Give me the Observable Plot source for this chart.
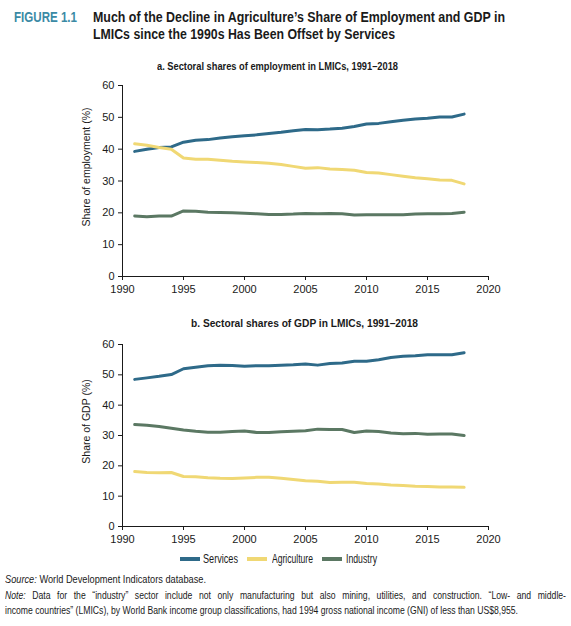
<!DOCTYPE html>
<html><head><meta charset="utf-8">
<script src="https://cdn.jsdelivr.net/npm/d3@7"></script>
<script src="https://cdn.jsdelivr.net/npm/@observablehq/plot@0.6"></script>
<style>
  html,body{margin:0;padding:0;background:#fff;}
  body{width:571px;height:626px;position:relative;overflow:hidden;font-family:"Liberation Sans",Arial,sans-serif;color:#1a1a1a;}
  .abs{position:absolute;white-space:nowrap;line-height:1;transform-origin:left top;}
  .t{font-weight:bold;font-size:14.5px;}
  .sub{font-weight:bold;font-size:11.5px;}
  .sw{position:absolute;width:20px;height:4px;top:557px;}
  .lg{font-size:12px;top:553px;}
  .fn{font-size:11px;}
</style>
</head><body>
<div class="abs t fit" data-w="63" style="left:14px;top:10px;color:#3b8aa5;">FIGURE 1.1</div>
<div class="abs t fit" data-w="412" style="left:93px;top:10px;">Much of the Decline in Agriculture’s Share of Employment and GDP in</div>
<div class="abs t fit" data-w="302" style="left:93px;top:26.5px;">LMICs since the 1990s Has Been Offset by Services</div>
<div class="abs sub fit" data-w="241" style="left:157px;top:61px;">a. Sectoral shares of employment in LMICs, 1991–2018</div>
<div id="chartA" class="abs" style="left:0;top:75px;"></div>
<div class="abs sub fit" data-w="227" style="left:191px;top:318px;">b. Sectoral shares of GDP in LMICs, 1991–2018</div>
<div id="chartB" class="abs" style="left:0;top:334px;"></div>
<div id="legend"></div>
<div class="abs fn fit" data-w="201" style="left:5px;top:574px;"><i>Source:</i> World Development Indicators database.</div>
<div id="note1" class="abs fn" style="left:5px;top:590px;white-space:normal;text-align:justify;text-align-last:justify;"><i>Note:</i> Data for the “industry” sector include not only manufacturing but also mining, utilities, and construction. “Low- and middle-</div>
<div id="note2" class="abs fn" style="left:5px;top:605px;">income countries” (LMICs), by World Bank income group classifications, had 1994 gross national income (GNI) of less than US$8,955.</div>
<script>
const years = [1991,1992,1993,1994,1995,1996,1997,1998,1999,2000,2001,2002,2003,2004,2005,2006,2007,2008,2009,2010,2011,2012,2013,2014,2015,2016,2017,2018];
const sectors = ["Services","Agriculture","Industry"];
const sectorColors = ["#2e6a89","#f0d874","#5b7863"];
const xTicks = [1990,1995,2000,2005,2010,2015,2020];
const yTicks = [0,10,20,30,40,50,60];

const empServices =    [39.3,40.0,40.5,40.7,42.2,42.8,43.0,43.5,43.9,44.2,44.5,44.9,45.3,45.8,46.2,46.1,46.3,46.6,47.1,47.9,48.1,48.6,49.1,49.5,49.7,50.1,50.1,51.0];
const empAgriculture = [41.7,41.2,40.5,40.0,37.2,36.8,36.8,36.5,36.2,36.0,35.8,35.6,35.2,34.6,34.0,34.2,33.8,33.6,33.4,32.7,32.5,32.0,31.5,31.0,30.7,30.3,30.2,29.1];
const empIndustry =    [19.0,18.8,19.0,19.0,20.6,20.5,20.2,20.1,20.0,19.9,19.7,19.5,19.5,19.6,19.8,19.7,19.8,19.7,19.3,19.4,19.4,19.4,19.4,19.6,19.7,19.7,19.8,20.2];

const gdpServices =    [48.5,49.0,49.5,50.1,52.0,52.5,53.0,53.2,53.1,52.8,53.0,53.0,53.2,53.3,53.6,53.2,53.7,53.9,54.5,54.5,55.0,55.7,56.1,56.3,56.6,56.6,56.6,57.3];
const gdpAgriculture = [18.1,17.8,17.7,17.8,16.5,16.4,16.1,15.9,15.8,16.0,16.2,16.2,15.9,15.5,15.1,14.9,14.5,14.6,14.6,14.2,14.0,13.7,13.5,13.3,13.2,13.0,13.0,12.9];
const gdpIndustry =    [33.6,33.4,33.0,32.4,31.8,31.4,31.1,31.1,31.3,31.5,31.0,31.0,31.2,31.4,31.6,32.1,32.0,32.0,31.0,31.5,31.3,30.8,30.6,30.7,30.4,30.5,30.5,30.0];

function toRows(seriesList){
  const rows = [];
  sectors.forEach((s,i)=>years.forEach((y,j)=>rows.push({year:y, sector:s, value:seriesList[i][j]})));
  return rows;
}
function chart(rows, label, height){
  return Plot.plot({
    width:571, height, marginLeft:122, marginRight:83, marginTop:10, marginBottom:25,
    style:{fontSize:"11px", fontFamily:"'Liberation Sans',Arial,sans-serif", color:"#1a1a1a", background:"transparent"},
    x:{domain:[1990,2020]},
    y:{domain:[0,60]},
    color:{domain:sectors, range:sectorColors},
    marks:[
      Plot.axisX({ticks:xTicks, tickFormat:d=>String(d), tickSize:4, tickPadding:5, label:null}),
      Plot.axisY({ticks:yTicks, tickSize:4, tickPadding:4, label:null}),
      Plot.text([label],{frameAnchor:"left", textAnchor:"middle", lineAnchor:"middle", rotate:-90, dx:-36, dy:-14, fontSize:10.5, fill:"#1a1a1a"}),
      Plot.ruleX([1990],{stroke:"#1a1a1a"}),
      Plot.ruleY([0],{stroke:"#1a1a1a"}),
      Plot.line(rows,{x:"year", y:"value", z:"sector", stroke:"sector", strokeWidth:3, curve:"linear"})
    ]
  });
}
document.getElementById("chartA").append(chart(toRows([empServices,empAgriculture,empIndustry]), "Share of employment (%)", 226));
document.getElementById("chartB").append(chart(toRows([gdpServices,gdpAgriculture,gdpIndustry]), "Share of GDP (%)", 217));

// legend (layout positions)
const legendPos = [{sw:180, tx:203, w:35},{sw:247, tx:272, w:41},{sw:322, tx:346, w:31}];
const lg = document.getElementById("legend");
sectors.forEach((s,i)=>{
  const sw = document.createElement("div"); sw.className="sw"; sw.style.left=legendPos[i].sw+"px"; sw.style.background=sectorColors[i];
  const t = document.createElement("div"); t.className="abs lg fit"; t.dataset.w=legendPos[i].w; t.style.left=legendPos[i].tx+"px"; t.textContent=s;
  lg.append(sw,t);
});

function fitEl(el, w){
  el.style.transform="";
  const r = el.getBoundingClientRect().width;
  el.style.transform = `scaleX(${w/r})`;
  return w/r;
}
document.querySelectorAll(".fit").forEach(el=>fitEl(el, +el.dataset.w));
const n2 = document.getElementById("note2");
const s = fitEl(n2, 513);
const n1 = document.getElementById("note1");
n1.style.width = (561/s)+"px";
n1.style.transform = `scaleX(${s})`;
</script>
</body></html>
